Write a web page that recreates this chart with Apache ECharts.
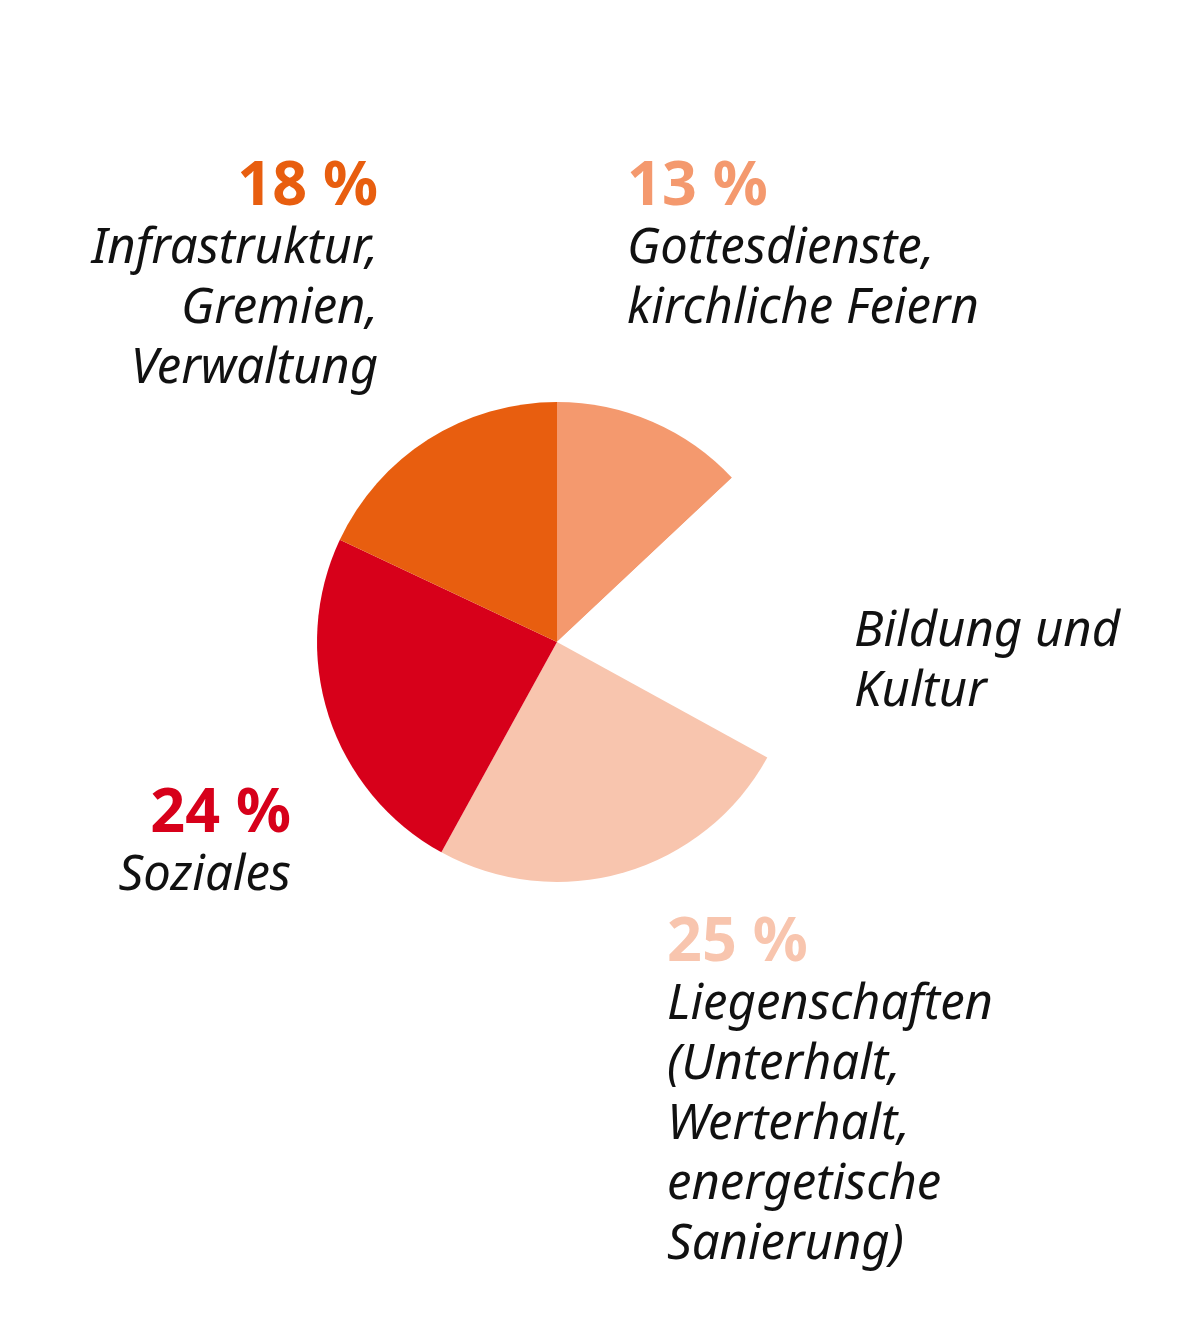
<!DOCTYPE html>
<html>
<head>
<meta charset="utf-8">
<script src="https://cdn.jsdelivr.net/npm/echarts@6/dist/echarts.min.js"></script>
<style>
html,body{margin:0;padding:0;background:#fff;}
#c{width:1196px;height:1332px;}
</style>
</head>
<body>
<div id="c"></div>
<script>
// Data
var categories = [
  'Gottesdienste,\nkirchliche Feiern',
  'Bildung und\nKultur',
  'Liegenschaften\n(Unterhalt,\nWerterhalt,\nenergetische\nSanierung)',
  'Soziales',
  'Infrastruktur,\nGremien,\nVerwaltung'
];
var values = [13, 20, 25, 24, 18];
var showPercent = [true, false, true, true, true];
var colors = ['#F4996E', '#FFFFFF', '#F8C5AE', '#D7001A', '#E85E0F'];

// Label layout (positions only)
var labelPos = [
  {x: 627, y: 156, align: 'left'},
  {x: 854, y: 602, align: 'left'},
  {x: 667, y: 912, align: 'left'},
  {x: 291, y: 783, align: 'right'},
  {x: 378, y: 156, align: 'right'}
];

var chart = echarts.init(document.getElementById('c'), null, {renderer: 'canvas'});

var data = categories.map(function (name, i) {
  return {
    name: name,
    value: values[i],
    itemStyle: {color: colors[i]},
    label: {
      align: labelPos[i].align,
      rich: {
        p: {
          fontFamily: 'Noto Sans',
          fontWeight: 'bold',
          fontSize: 61,
          lineHeight: 63,
          color: colors[i],
          align: labelPos[i].align
        },
        t: {
          fontFamily: 'Noto Sans',
          fontStyle: 'italic',
          fontSize: 49,
          lineHeight: 60,
          color: '#111111',
          align: labelPos[i].align
        }
      }
    }
  };
});

chart.setOption({
  animation: false,
  backgroundColor: '#ffffff',
  series: [{
    type: 'pie',
    center: [557, 642],
    radius: [0, 240],
    startAngle: 90,
    clockwise: true,
    silent: true,
    avoidLabelOverlap: false,
    itemStyle: {borderWidth: 0},
    emphasis: {disabled: true},
    labelLine: {show: false},
    label: {
      show: true,
      position: 'outside',
      formatter: function (p) {
        var t = p.name.split('\n').map(function (l) { return '{t|' + l + '}'; }).join('\n');
        if (showPercent[p.dataIndex]) {
          return '{p|' + p.value + ' %}\n' + t;
        }
        return t;
      }
    },
    labelLayout: function (params) {
      var lp = labelPos[params.dataIndex];
      return {x: lp.x, y: lp.y, align: lp.align, verticalAlign: 'top'};
    },
    data: data
  }]
});
</script>
</body>
</html>
